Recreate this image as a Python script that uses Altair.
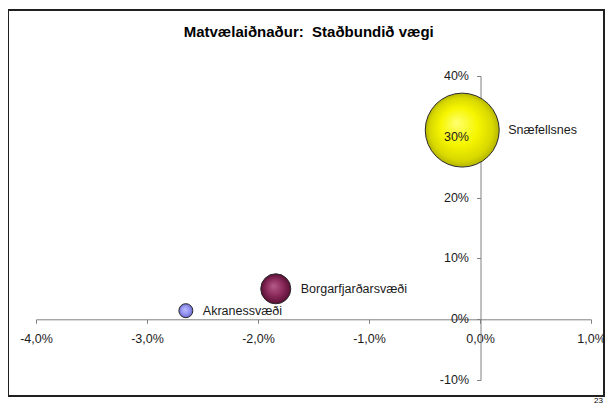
import altair as alt
import pandas as pd

# ---- data ----
regions = ["Akranessvæði", "Borgarfjarðarsvæði", "Snæfellsnes"]
growth = [-2.65, -1.84, -0.16]      # x value, %
share = [1.4, 5.0, 31.1]            # y value, %
weight = [1.0, 4.6, 27.9]           # bubble size (relative)
x_ticks = [-4, -3, -2, -1, 0, 1]
x_tick_labels = ["-4,0%", "-3,0%", "-2,0%", "-1,0%", "0,0%", "1,0%"]
y_ticks = [-10, 0, 10, 20, 30, 40]
y_tick_labels = ["-10%", "0%", "10%", "20%", "30%", "40%"]
title_text = "Matvælaiðnaður:\u00a0 Staðbundið vægi"
page_number = "23"

df = pd.DataFrame({"region": regions, "x": growth, "y": share, "w": weight})
ydf = pd.DataFrame({"x": [0] * len(y_ticks), "y": y_ticks, "label": y_tick_labels})
tdf = pd.DataFrame({"t": [title_text]})
pdf = pd.DataFrame({"t": [page_number]})

FONT = "Liberation Sans"
AXIS_COLOR = "#808080"
TEXT_COLOR = "#1a1a1a"

x_label_expr = (
    "[" + ",".join(f"'{l}'" for l in x_tick_labels) + "][indexof(["
    + ",".join(str(t) for t in x_ticks) + "], datum.value)]"
)

xs = alt.Scale(domain=[-4, 1], range=[28, 583], nice=False, zero=False)
ys = alt.Scale(domain=[-10, 40], range=[370, 66], nice=False, zero=False)

x_axis = alt.Axis(
    values=x_ticks, labelExpr=x_label_expr, title=None, grid=False, offset=-76.7,
    domainColor=AXIS_COLOR, tickColor=AXIS_COLOR, domainWidth=1, tickWidth=1, tickSize=4,
    labelFont=FONT, labelFontSize=12.5, labelColor=TEXT_COLOR, labelPadding=9,
    labelFlush=False, labelOverlap=False,
)
y_axis = alt.Axis(
    values=y_ticks, labels=False, title=None, grid=False, offset=-472.5,
    domainColor=AXIS_COLOR, tickColor=AXIS_COLOR, domainWidth=1, tickWidth=1, tickSize=4,
)

X = alt.X("x:Q", scale=xs, axis=x_axis)
Y = alt.Y("y:Q", scale=ys, axis=y_axis)
S = alt.Size("w:Q", scale=alt.Scale(domain=[0, 28], range=[0, 5490]), legend=None)


def radial(stops):
    return {
        "gradient": "radial",
        "x1": 0.42, "y1": 0.4, "r1": 0,
        "x2": 0.5, "y2": 0.5, "r2": 0.5,
        "stops": [{"offset": o, "color": c} for o, c in stops],
    }


gradients = [
    radial([(0, "#BDBDFF"), (0.6, "#9494F2"), (1, "#6A6ACC")]),
    radial([(0, "#B55C8A"), (0.55, "#8C2C5C"), (1, "#5A0F35")]),
    radial([(0, "#FFFF70"), (0.5, "#F6F600"), (0.85, "#D8D800"), (1, "#B5B500")]),
]
label_dx = [17, 25, 46]

layers = []
for name, grad in zip(regions, gradients):
    layers.append(
        alt.Chart(df)
        .transform_filter(alt.datum.region == name)
        .mark_circle(fill=grad, stroke="#2a2a2a", strokeWidth=1, opacity=1, fillOpacity=1)
        .encode(x=X, y=Y, size=S)
    )

for name, dx in zip(regions, label_dx):
    layers.append(
        alt.Chart(df)
        .transform_filter(alt.datum.region == name)
        .mark_text(align="left", baseline="middle", dx=dx, font=FONT, fontSize=12.5, color=TEXT_COLOR)
        .encode(x=X, y=Y, text="region:N")
    )

# y tick labels drawn above the bubbles (as in the reference)
layers.append(
    alt.Chart(ydf)
    .mark_text(align="right", baseline="middle", dx=-11, font=FONT, fontSize=12.5, color=TEXT_COLOR)
    .encode(x=X, y=Y, text="label:N")
)

# title
layers.append(
    alt.Chart(tdf)
    .mark_text(align="center", baseline="middle", font=FONT, fontSize=15, fontWeight="bold", color="#000000")
    .encode(x=alt.value(300.7), y=alt.value(22), text="t:N")
)

# page number below the frame, bottom-right
layers.append(
    alt.Chart(pdf)
    .mark_text(align="right", baseline="bottom", font=FONT, fontSize=8, color="#000000")
    .encode(x=alt.value(595), y=alt.value(395), text="t:N")
)

chart = (
    alt.layer(*layers)
    .properties(
        width=596,
        height=386,
        padding={"left": 0, "top": 2, "right": 1, "bottom": 9},
        autosize=alt.AutoSizeParams(type="none"),
        background="white",
    )
    .configure_view(stroke="#202020", strokeWidth=2)
)

chart.save("out.html", embed_options={"renderer": "svg", "actions": False})
